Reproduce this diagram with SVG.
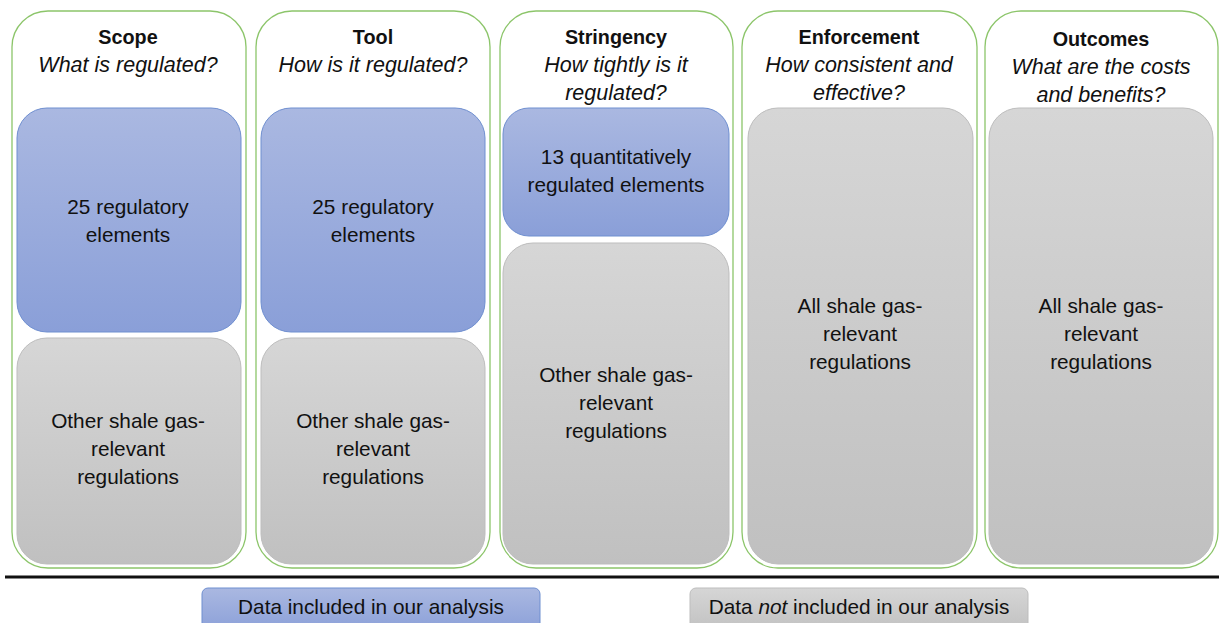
<svg xmlns="http://www.w3.org/2000/svg" width="1219" height="623" viewBox="0 0 1219 623">
<defs>
<linearGradient id="gb" x1="0" y1="0" x2="0" y2="1"><stop offset="0" stop-color="#aab8e1"/><stop offset="1" stop-color="#8a9fd8"/></linearGradient>
<linearGradient id="gg" x1="0" y1="0" x2="0" y2="1"><stop offset="0" stop-color="#d6d6d6"/><stop offset="1" stop-color="#c0c0c0"/></linearGradient>
<style>
.col{fill:#fff;stroke:#8cc56a;stroke-width:1.3}
.blue{fill:url(#gb);stroke:#6f8fd0;stroke-width:1}
.gray{fill:url(#gg);stroke:#bdbdbd;stroke-width:1}
text{font-family:"Liberation Sans",Arial,sans-serif;font-size:20.8px;fill:#111;text-anchor:middle}
.t{font-weight:bold;font-size:19.8px}
.s{font-style:italic;font-size:21.5px}
</style>
</defs>
<g id="col-scope">
<rect class="col" x="12" y="11" width="234" height="557" rx="36"/>
<text class="t" x="128" y="44">Scope</text>
<text class="s" x="128" y="72">What is regulated?</text>
<rect class="blue" x="17" y="108" width="224" height="224" rx="30"/>
<text x="128" y="214">25 regulatory</text><text x="128" y="242">elements</text>
<rect class="gray" x="17" y="338" width="224" height="226" rx="30"/>
<text x="128" y="428">Other shale gas-</text><text x="128" y="456">relevant</text><text x="128" y="484">regulations</text>
</g>
<g id="col-tool">
<rect class="col" x="256" y="11" width="234" height="557" rx="36"/>
<text class="t" x="373" y="44">Tool</text>
<text class="s" x="373" y="72">How is it regulated?</text>
<rect class="blue" x="261" y="108" width="224" height="224" rx="30"/>
<text x="373" y="214">25 regulatory</text><text x="373" y="242">elements</text>
<rect class="gray" x="261" y="338" width="224" height="226" rx="30"/>
<text x="373" y="428">Other shale gas-</text><text x="373" y="456">relevant</text><text x="373" y="484">regulations</text>
</g>
<g id="col-stringency">
<rect class="col" x="500" y="11" width="233" height="557" rx="36"/>
<text class="t" x="616" y="44">Stringency</text>
<text class="s" x="616" y="72">How tightly is it</text><text class="s" x="616" y="100">regulated?</text>
<rect class="blue" x="503" y="108" width="226" height="128" rx="26"/>
<text x="616" y="164">13 quantitatively</text><text x="616" y="192">regulated elements</text>
<rect class="gray" x="503" y="243" width="226" height="321" rx="30"/>
<text x="616" y="382">Other shale gas-</text><text x="616" y="410">relevant</text><text x="616" y="438">regulations</text>
</g>
<g id="col-enforcement">
<rect class="col" x="742" y="11" width="235" height="557" rx="36"/>
<text class="t" x="859" y="44">Enforcement</text>
<text class="s" x="859" y="72">How consistent and</text><text class="s" x="859" y="100">effective?</text>
<rect class="gray" x="748" y="108" width="225" height="456" rx="30"/>
<text x="860" y="313">All shale gas-</text><text x="860" y="341">relevant</text><text x="860" y="369">regulations</text>
</g>
<g id="col-outcomes">
<rect class="col" x="985" y="11" width="233" height="557" rx="36"/>
<text class="t" x="1101" y="46">Outcomes</text>
<text class="s" x="1101" y="74">What are the costs</text><text class="s" x="1101" y="102">and benefits?</text>
<rect class="gray" x="989" y="108" width="224" height="456" rx="30"/>
<text x="1101" y="313">All shale gas-</text><text x="1101" y="341">relevant</text><text x="1101" y="369">regulations</text>
</g>
<g id="connectors">
<line x1="5" y1="577" x2="1219" y2="577" stroke="#111" stroke-width="3"/>
</g>
<g id="legend-included">
<rect class="blue" x="202" y="588" width="338" height="45" rx="6"/>
<text x="371" y="614">Data included in our analysis</text>
</g>
<g id="legend-not-included">
<rect class="gray" x="690" y="588" width="338" height="45" rx="6"/>
<text x="859" y="614">Data <tspan font-style="italic">not</tspan> included in our analysis</text>
</g>
</svg>
